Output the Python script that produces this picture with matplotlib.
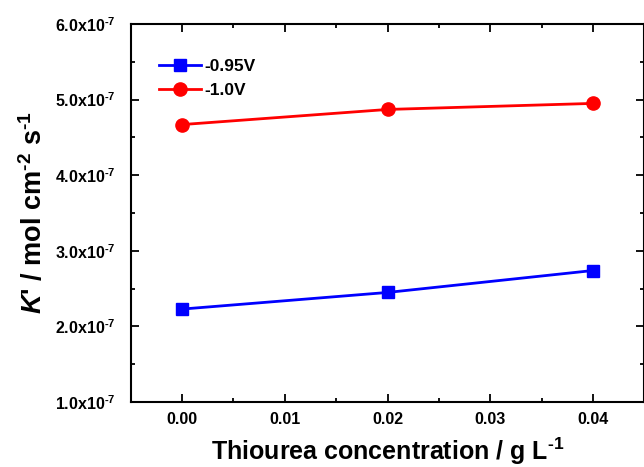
import numpy as np
import matplotlib
matplotlib.use("Agg")
import matplotlib.pyplot as plt
from matplotlib.ticker import MultipleLocator, FuncFormatter

plt.rcParams["font.family"] = ["Liberation Sans", "DejaVu Sans"]
plt.rcParams["font.weight"] = "bold"
plt.rcParams["axes.labelweight"] = "bold"
plt.rcParams["axes.unicode_minus"] = False
plt.rcParams["mathtext.fontset"] = "custom"
plt.rcParams["mathtext.rm"] = "Liberation Sans:bold"
plt.rcParams["mathtext.bf"] = "Liberation Sans:bold"
plt.rcParams["mathtext.it"] = "Liberation Sans:italic:bold"
plt.rcParams["mathtext.default"] = "bf"

# datos
conc = [0.00, 0.02, 0.04]
k_095 = [2.23e-7, 2.45e-7, 2.74e-7]
k_100 = [4.67e-7, 4.87e-7, 4.95e-7]
series = ["-0.95V", "-1.0V"]

fig = plt.figure(figsize=(6.44, 4.67), dpi=100)
ax = fig.add_axes([0.203, 0.139, 0.7976, 0.8096])

ax.plot(conc, k_095, color="#0000ff", lw=2, marker="s", ms=8.5, label=series[0])
ax.plot(conc, k_100, color="#ff0000", lw=2, marker="o", ms=9.5, label=series[1])

ax.set_xlim(-0.005, 0.045)
ax.set_ylim(1e-7, 6e-7)
ax.xaxis.set_major_locator(MultipleLocator(0.01))
ax.xaxis.set_minor_locator(MultipleLocator(0.005))
ax.yaxis.set_major_locator(MultipleLocator(1e-7))
ax.yaxis.set_minor_locator(MultipleLocator(0.5e-7))
ax.xaxis.set_major_formatter(FuncFormatter(lambda v, p: f"{v:.2f}"))
ax.yaxis.set_major_formatter(
    FuncFormatter(lambda v, p: f"{v * 1e7:.1f}x10$^{{\\text{{-}}7}}$"))

ax.tick_params(which="both", direction="in", top=True, right=True, width=1.3)
ax.tick_params(which="major", length=5.5, labelsize=11.5)
ax.tick_params(axis="y", which="major", pad=11)
ax.tick_params(axis="x", which="major", pad=7)
ax.tick_params(which="minor", length=3)
for sp in ax.spines.values():
    sp.set_linewidth(1.5)

ax.set_xlabel("Thiourea concentration / g L$^{\\text{-}1}$", fontsize=18, labelpad=6)
ax.set_ylabel("$\\mathit{K}$' / mol cm$^{\\text{-}2}$ s$^{\\text{-}1}$",
              fontsize=19.5, labelpad=5)

ax.legend(loc="upper left", frameon=False, fontsize=12.5, handlelength=2.4,
          handletextpad=0.2, labelspacing=0.55, bbox_to_anchor=(0.025, 0.95))

fig.savefig("out.png", dpi=100)
